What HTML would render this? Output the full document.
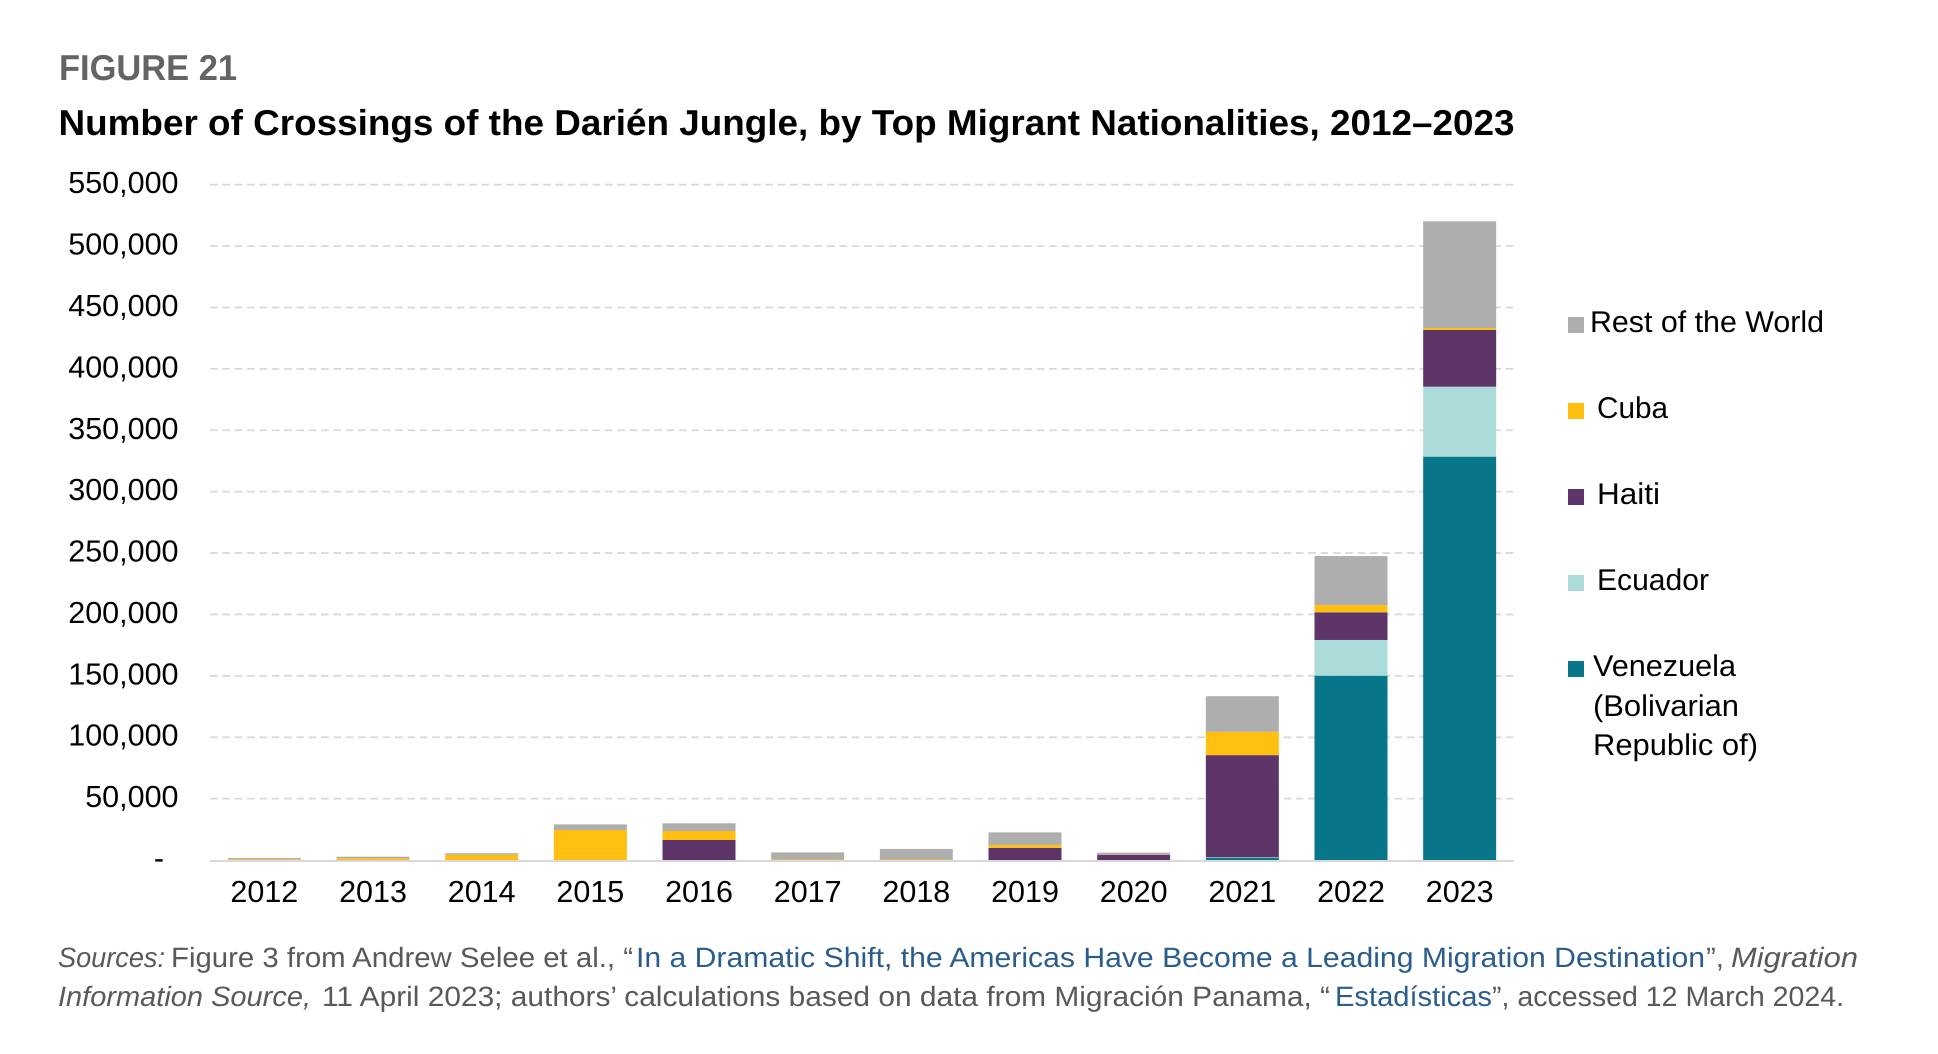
<!DOCTYPE html>
<html lang="en">
<head>
<meta charset="utf-8">
<title>Number of Crossings of the Darién Jungle</title>
<style>
  html, body { margin: 0; padding: 0; background: #ffffff; width: 1938px; height: 1054px; overflow: hidden; }
  svg { display: block; font-family: "Liberation Sans", sans-serif; text-rendering: geometricPrecision; }
  .tick { font-size: 30.5px; fill: #000000; }
  .legend { font-size: 30px; fill: #000000; }
  .note { font-size: 28px; fill: #58595b; }
  .link { font-size: 28px; fill: #2a5d8c; }
  .it { font-style: italic; }
</style>
</head>
<body>
<svg id="chart" xmlns="http://www.w3.org/2000/svg" width="1938" height="1054" viewBox="0 0 1938 1054">
  <text x="59" y="80" font-size="36" font-weight="700" fill="#636466" textLength="178" lengthAdjust="spacingAndGlyphs">FIGURE 21</text>
  <text x="58.5" y="135" font-size="36" font-weight="700" fill="#000000" textLength="1456" lengthAdjust="spacingAndGlyphs">Number of Crossings of the Darién Jungle, by Top Migrant Nationalities, 2012–2023</text>

  <g id="grid"></g>
  <g id="yaxis"></g>
  <g id="bars"></g>
  <line x1="210" x2="1514" y1="861" y2="861" stroke="#d9d9d9" stroke-width="2"></line>
  <g id="xaxis"></g>

  <g>
    <g>
      <rect x="1568" y="317" width="16" height="16" fill="#aeaeae"></rect>
      <text class="legend" x="1590" y="332" textLength="234" lengthAdjust="spacingAndGlyphs">Rest of the World</text>
    </g>
    <g>
      <rect x="1568" y="403" width="16" height="16" fill="#ffbf10"></rect>
      <text class="legend" x="1597" y="418" textLength="71" lengthAdjust="spacingAndGlyphs">Cuba</text>
    </g>
    <g>
      <rect x="1568" y="489" width="16" height="16" fill="#5e3568"></rect>
      <text class="legend" x="1597" y="504" textLength="63" lengthAdjust="spacingAndGlyphs">Haiti</text>
    </g>
    <g>
      <rect x="1568" y="575" width="16" height="16" fill="#abdcd9"></rect>
      <text class="legend" x="1597" y="590" textLength="112" lengthAdjust="spacingAndGlyphs">Ecuador</text>
    </g>
    <g>
      <rect x="1568" y="661" width="16" height="16" fill="#087689"></rect>
      <text class="legend" x="1593" y="676" textLength="143" lengthAdjust="spacingAndGlyphs">Venezuela</text>
      <text class="legend" x="1593" y="716" textLength="146" lengthAdjust="spacingAndGlyphs">(Bolivarian</text>
      <text class="legend" x="1593" y="755" textLength="165" lengthAdjust="spacingAndGlyphs">Republic of)</text>
    </g>
  </g>

  <g>
    <text class="note it" x="58" y="967" textLength="107" lengthAdjust="spacingAndGlyphs">Sources:</text>
    <text class="note" x="171" y="967" textLength="462" lengthAdjust="spacingAndGlyphs">Figure 3 from Andrew Selee et al., “</text>
    <text class="link" x="636" y="967" textLength="1069" lengthAdjust="spacingAndGlyphs">In a Dramatic Shift, the Americas Have Become a Leading Migration Destination</text>
    <text class="note" x="1706" y="967" textLength="18" lengthAdjust="spacingAndGlyphs">”,</text>
    <text class="note it" x="1731" y="967" textLength="127" lengthAdjust="spacingAndGlyphs">Migration</text>
    <text class="note it" x="58" y="1006" textLength="253" lengthAdjust="spacingAndGlyphs">Information Source,</text>
    <text class="note" x="322" y="1006" textLength="1008" lengthAdjust="spacingAndGlyphs">11 April 2023; authors’ calculations based on data from Migración Panama, “</text>
    <text class="link" x="1335" y="1006" textLength="157" lengthAdjust="spacingAndGlyphs">Estadísticas</text>
    <text class="note" x="1492" y="1006" textLength="352" lengthAdjust="spacingAndGlyphs">”, accessed 12 March 2024.</text>
  </g>
</svg>

<script>
const years = ["2012","2013","2014","2015","2016","2017","2018","2019","2020","2021","2022","2023"];
const venezuela = [0,0,0,0,0,0,0,0,0,1900,150100,328500];
const ecuador = [0,0,0,0,0,0,0,0,0,400,29100,57000];
const haiti = [0,0,0,0,16300,0,0,9800,4100,83100,22500,46200];
const cuba = [600,1400,4350,24400,7300,400,400,2450,0,19000,5950,1600];
const rest = [1000,1300,1150,4600,6300,5800,8600,10250,1900,29000,39900,86900];
const tickValues = [0,50000,100000,150000,200000,250000,300000,350000,400000,450000,500000,550000];
const tickLabels = ["-","50,000","100,000","150,000","200,000","250,000","300,000","350,000","400,000","450,000","500,000","550,000"];

const NS = "http://www.w3.org/2000/svg";
const plotLeft = 210, plotRight = 1514, plotBottom = 860, plotTop = 184.7;
const yMax = 550000, barWidth = 73;
const bandWidth = (plotRight - plotLeft) / years.length;

function yScale(v) { return plotBottom - (v / yMax) * (plotBottom - plotTop); }
function xCenter(i) { return plotLeft + bandWidth * (i + 0.5); }

const gridG = document.getElementById("grid");
const yG = document.getElementById("yaxis");
const xG = document.getElementById("xaxis");
const barsG = document.getElementById("bars");

tickValues.forEach(function (v, i) {
  const y = yScale(v);
  if (v !== 0) {
    const line = document.createElementNS(NS, "line");
    
    
    line.setAttribute("x1", plotLeft);
    line.setAttribute("x2", plotRight);
    line.setAttribute("y1", y);
    line.setAttribute("y2", y);
    line.setAttribute("stroke", "#d9d9d9");
    line.setAttribute("stroke-width", "1.8");
    line.setAttribute("stroke-dasharray", "7.7 4.64");
    gridG.appendChild(line);
  }
  const t = document.createElementNS(NS, "text");
  
  
  t.setAttribute("class", "tick");
  t.setAttribute("text-anchor", "end");
  t.setAttribute("x", v === 0 ? 164 : 178.5);
  t.setAttribute("y", y + 8.5);
  t.textContent = tickLabels[i];
  yG.appendChild(t);
});

const seriesNames = ["venezuela", "ecuador", "haiti", "cuba", "rest"];
const seriesValues = [venezuela, ecuador, haiti, cuba, rest];
const seriesColors = ["#087689", "#abdcd9", "#5e3568", "#ffbf10", "#aeaeae"];

years.forEach(function (year, i) {
  let base = 0;
  const cx = xCenter(i);
  seriesValues.forEach(function (vals, s) {
    const v = vals[i];
    if (v > 0) {
      const y0 = yScale(base);
      const y1 = yScale(base + v);
      const r = document.createElementNS(NS, "rect");
      
      
      r.setAttribute("x", cx - barWidth / 2);
      r.setAttribute("y", y1);
      r.setAttribute("width", barWidth);
      r.setAttribute("height", y0 - y1);
      r.setAttribute("fill", seriesColors[s]);
      barsG.appendChild(r);
      base += v;
    }
  });
  const label = document.createElementNS(NS, "text");
  
  
  label.setAttribute("class", "tick");
  label.setAttribute("text-anchor", "middle");
  label.setAttribute("x", cx);
  label.setAttribute("y", 902);
  label.textContent = year;
  xG.appendChild(label);
});
</script>
</body>
</html>
